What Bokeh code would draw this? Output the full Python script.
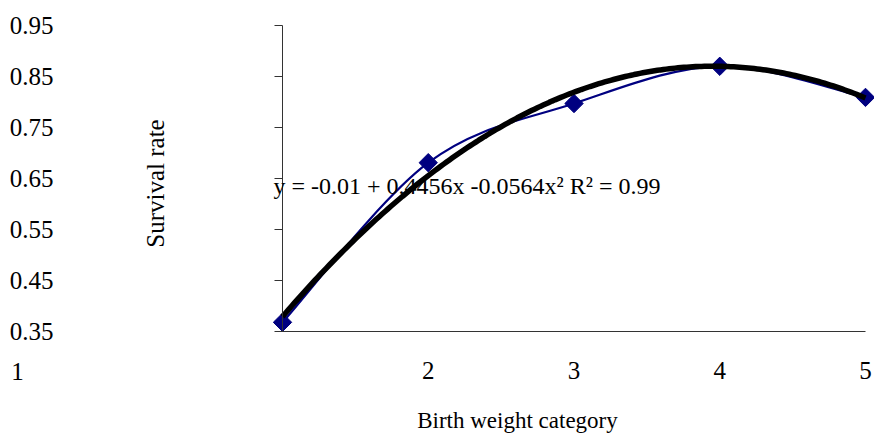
import numpy as np
from bokeh.plotting import figure
from bokeh.models import Range1d, Label, FixedTicker, ColumnDataSource
from bokeh.embed import file_html
from bokeh.resources import INLINE

# ---- data ----
categories = [1, 2, 3, 4, 5]
survival = [0.368, 0.681, 0.797, 0.870, 0.809]
y_ticks = [0.35, 0.45, 0.55, 0.65, 0.75, 0.85, 0.95]
x_ticks = [1, 2, 3, 4, 5]
x_tick_labels = {1: "", 2: "2", 3: "3", 4: "4", 5: "5"}
trend_coef = [-0.01, 0.4456, -0.0564]   # c0 + c1 x + c2 x^2
equation_text = "y = -0.01 + 0.4456x -0.0564x\u00b2 R\u00b2 = 0.99"
x_title = "Birth weight category"
y_title = "Survival rate"

FONT = "'Liberation Serif', 'Times New Roman', Times, serif"
NAVY = "#000080"

W, H = 874, 436
# pixel geometry of the plotting area inside the canvas
PX_L, PX_R, PX_T, PX_B = 282, 865, 25, 331
X0, X1 = categories[0], categories[-1]
Y0, Y1 = y_ticks[0], y_ticks[-1]
sx = (PX_R - PX_L) / (X1 - X0)
sy = (PX_B - PX_T) / (Y1 - Y0)
x_range = Range1d(X0 - PX_L / sx, X1 + (W - PX_R) / sx)
y_range = Range1d(Y0 - (H - PX_B) / sy, Y1 + PX_T / sy)

p = figure(width=W, height=H, output_backend="svg", toolbar_location=None,
           x_range=x_range, y_range=y_range,
           min_border=0, min_border_left=0, min_border_right=0,
           min_border_top=0, min_border_bottom=0)
p.outline_line_color = None
p.grid.visible = False
p.background_fill_color = "white"
p.border_fill_color = "white"

# y axis
ya = p.yaxis[0]
ya.fixed_location = X0
ya.bounds = (Y0, Y1)
ya.ticker = FixedTicker(ticks=y_ticks)
ya.minor_tick_line_color = None
ya.major_tick_in = 0
ya.major_tick_out = 8
ya.axis_line_color = "#333333"
ya.major_tick_line_color = "#333333"
ya.major_label_standoff = 221
ya.major_label_text_font = FONT
ya.major_label_text_font_size = "25px"
ya.major_label_text_color = "black"

# x axis
xa = p.xaxis[0]
xa.fixed_location = Y0
xa.bounds = (X0, X1)
xa.ticker = FixedTicker(ticks=x_ticks)
xa.major_label_overrides = x_tick_labels
xa.minor_tick_line_color = None
xa.major_tick_in = 0
xa.major_tick_out = 0
xa.axis_line_color = "#333333"
xa.major_label_standoff = 30
xa.major_label_text_font = FONT
xa.major_label_text_font_size = "25px"
xa.major_label_text_color = "black"

# smoothed data line (Catmull-Rom style Bezier through the points)
xs = np.array(categories, dtype=float)
ys = np.array(survival, dtype=float)
xp = np.concatenate([[xs[0]], xs, [xs[-1]]])
yp = np.concatenate([[ys[0]], ys, [ys[-1]]])
n = len(xs)
seg = dict(x0=[], y0=[], x1=[], y1=[], cx0=[], cy0=[], cx1=[], cy1=[])
for i in range(n - 1):
    j = i + 1
    seg["x0"].append(xp[j]); seg["y0"].append(yp[j])
    seg["x1"].append(xp[j + 1]); seg["y1"].append(yp[j + 1])
    seg["cx0"].append(xp[j] + (xp[j + 1] - xp[j - 1]) / 6)
    seg["cy0"].append(yp[j] + (yp[j + 1] - yp[j - 1]) / 6)
    seg["cx1"].append(xp[j + 1] - (xp[j + 2] - xp[j]) / 6)
    seg["cy1"].append(yp[j + 1] - (yp[j + 2] - yp[j]) / 6)
p.bezier(x0="x0", y0="y0", x1="x1", y1="y1", cx0="cx0", cy0="cy0", cx1="cx1", cy1="cy1",
         source=ColumnDataSource(seg), line_color=NAVY, line_width=2.2)

p.scatter(categories, survival, marker="square", angle=np.pi / 4, size=13,
          fill_color=NAVY, line_color=NAVY)

# polynomial trend line
tx = np.linspace(X0, X1, 200)
ty = trend_coef[0] + trend_coef[1] * tx + trend_coef[2] * tx ** 2
p.line(tx, ty, line_color="black", line_width=5.5)

# texts (positions in pixels converted to data units)
def dx(px):
    return X0 + (px - PX_L) / sx

def dy(py):
    return Y1 - (py - PX_T) / sy

p.add_layout(Label(x=dx(273), y=dy(185), text=equation_text, text_font=FONT,
                   text_font_size="24px", text_color="black", text_align="left",
                   text_baseline="alphabetic"))
p.add_layout(Label(x=dx(17), y=dy(371), text="1", text_font=FONT,
                   text_font_size="25px", text_color="black", text_align="center",
                   text_baseline="middle"))
p.add_layout(Label(x=dx(517), y=dy(420), text=x_title, text_font=FONT,
                   text_font_size="23px", text_color="black", text_align="center",
                   text_baseline="alphabetic"))
p.add_layout(Label(x=dx(155), y=dy(183), text=y_title, text_font=FONT, angle=np.pi / 2,
                   text_font_size="25px", text_color="black", text_align="center",
                   text_baseline="middle"))

open("out.html", "w").write(file_html(p, INLINE))
